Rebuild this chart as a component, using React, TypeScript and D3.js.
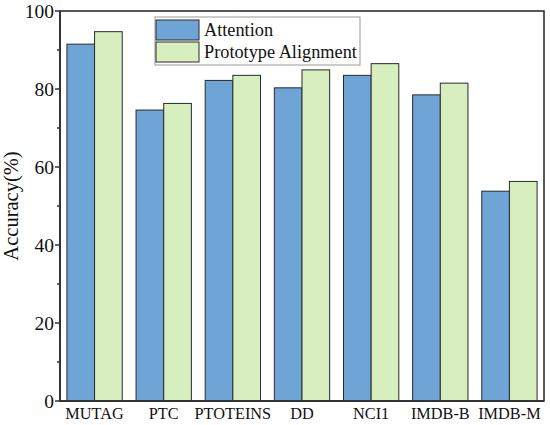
import { useEffect } from "react";
import * as d3 from "d3";

const categories = ["MUTAG", "PTC", "PTOTEINS", "DD", "NCI1", "IMDB-B", "IMDB-M"];
const seriesNames = ["Attention", "Prototype Alignment"];
const attention = [91.5, 74.6, 82.2, 80.3, 83.5, 78.5, 53.8];
const prototype = [94.7, 76.3, 83.5, 84.9, 86.5, 81.5, 56.3];
const yTicks = [0, 20, 40, 60, 80, 100];
const yMinorTicks = [10, 30, 50, 70, 90];

const colors = ["#6FA4D6", "#D7EFBE"];
const font = "'Liberation Serif', 'Times New Roman', serif";

export default function App() {
  useEffect(() => {
    document.body.style.margin = "0";
  }, []);

  const width = 550;
  const height = 425;
  const margin = { top: 11, right: 6, bottom: 24, left: 60 };
  const innerW = width - margin.left - margin.right;
  const innerH = height - margin.top - margin.bottom;

  const x = d3.scaleBand<string>().domain(categories).range([0, innerW]).paddingInner(0.2).paddingOuter(0.1);
  const x1 = d3.scaleBand<string>().domain(seriesNames).range([0, x.bandwidth()]);
  const y = d3.scaleLinear().domain([0, 100]).range([innerH, 0]);

  const series = [attention, prototype];

  return (
    <svg width={width} height={height} style={{ display: "block", background: "#fff" }} fontFamily={font}>
      <g transform={`translate(${margin.left},${margin.top})`}>
        {categories.map((c, i) => (
          <g key={c} transform={`translate(${x(c)},0)`}>
            {series.map((vals, s) => (
              <rect
                key={s}
                x={x1(seriesNames[s])}
                y={y(vals[i])}
                width={x1.bandwidth()}
                height={innerH - y(vals[i])}
                fill={colors[s]}
                stroke="#2a2a2a"
                strokeWidth={1}
              />
            ))}
          </g>
        ))}

        {/* frame */}
        <rect x={0} y={0} width={innerW} height={innerH} fill="none" stroke="#222" strokeWidth={1.5} />
        <line x1={0} x2={0} y1={0} y2={innerH} stroke="#333" strokeWidth={2} />
        <line x1={0} x2={innerW} y1={innerH} y2={innerH} stroke="#333" strokeWidth={2} />

        {/* y ticks */}
        {yTicks.map((t) => (
          <g key={t} transform={`translate(0,${y(t)})`}>
            <line x1={-5} x2={0} stroke="#333" strokeWidth={1.5} />
            <text x={-6} dy="0.35em" textAnchor="end" fontSize={19.5} fill="#111">
              {t}
            </text>
          </g>
        ))}
        {yMinorTicks.map((t) => (
          <line key={t} x1={-3} x2={0} y1={y(t)} y2={y(t)} stroke="#333" strokeWidth={1.5} />
        ))}

        {/* x labels */}
        {categories.map((c) => (
          <text key={c} x={(x(c) ?? 0) + x.bandwidth() / 2} y={innerH + 18} textAnchor="middle" fontSize={16.3} fill="#111">
            {c}
          </text>
        ))}

        <text
          transform={`translate(${-42},${innerH / 2}) rotate(-90)`}
          textAnchor="middle"
          fontSize={20.5}
          fill="#111"
        >
          Accuracy(%)
        </text>

        {/* legend */}
        <g transform={`translate(${95},${6})`}>
          <rect x={0} y={0} width={205} height={48} fill="#fff" stroke="#999" strokeWidth={1} />
          {seriesNames.map((n, s) => (
            <g key={n} transform={`translate(1,${3 + s * 22})`}>
              <rect x={0} y={0} width={43} height={20} fill={colors[s]} stroke="#2a2a2a" strokeWidth={1} />
              <text x={48} y={10} dy="0.35em" fontSize={18.3} fill="#111">
                {n}
              </text>
            </g>
          ))}
        </g>
      </g>
    </svg>
  );
}
